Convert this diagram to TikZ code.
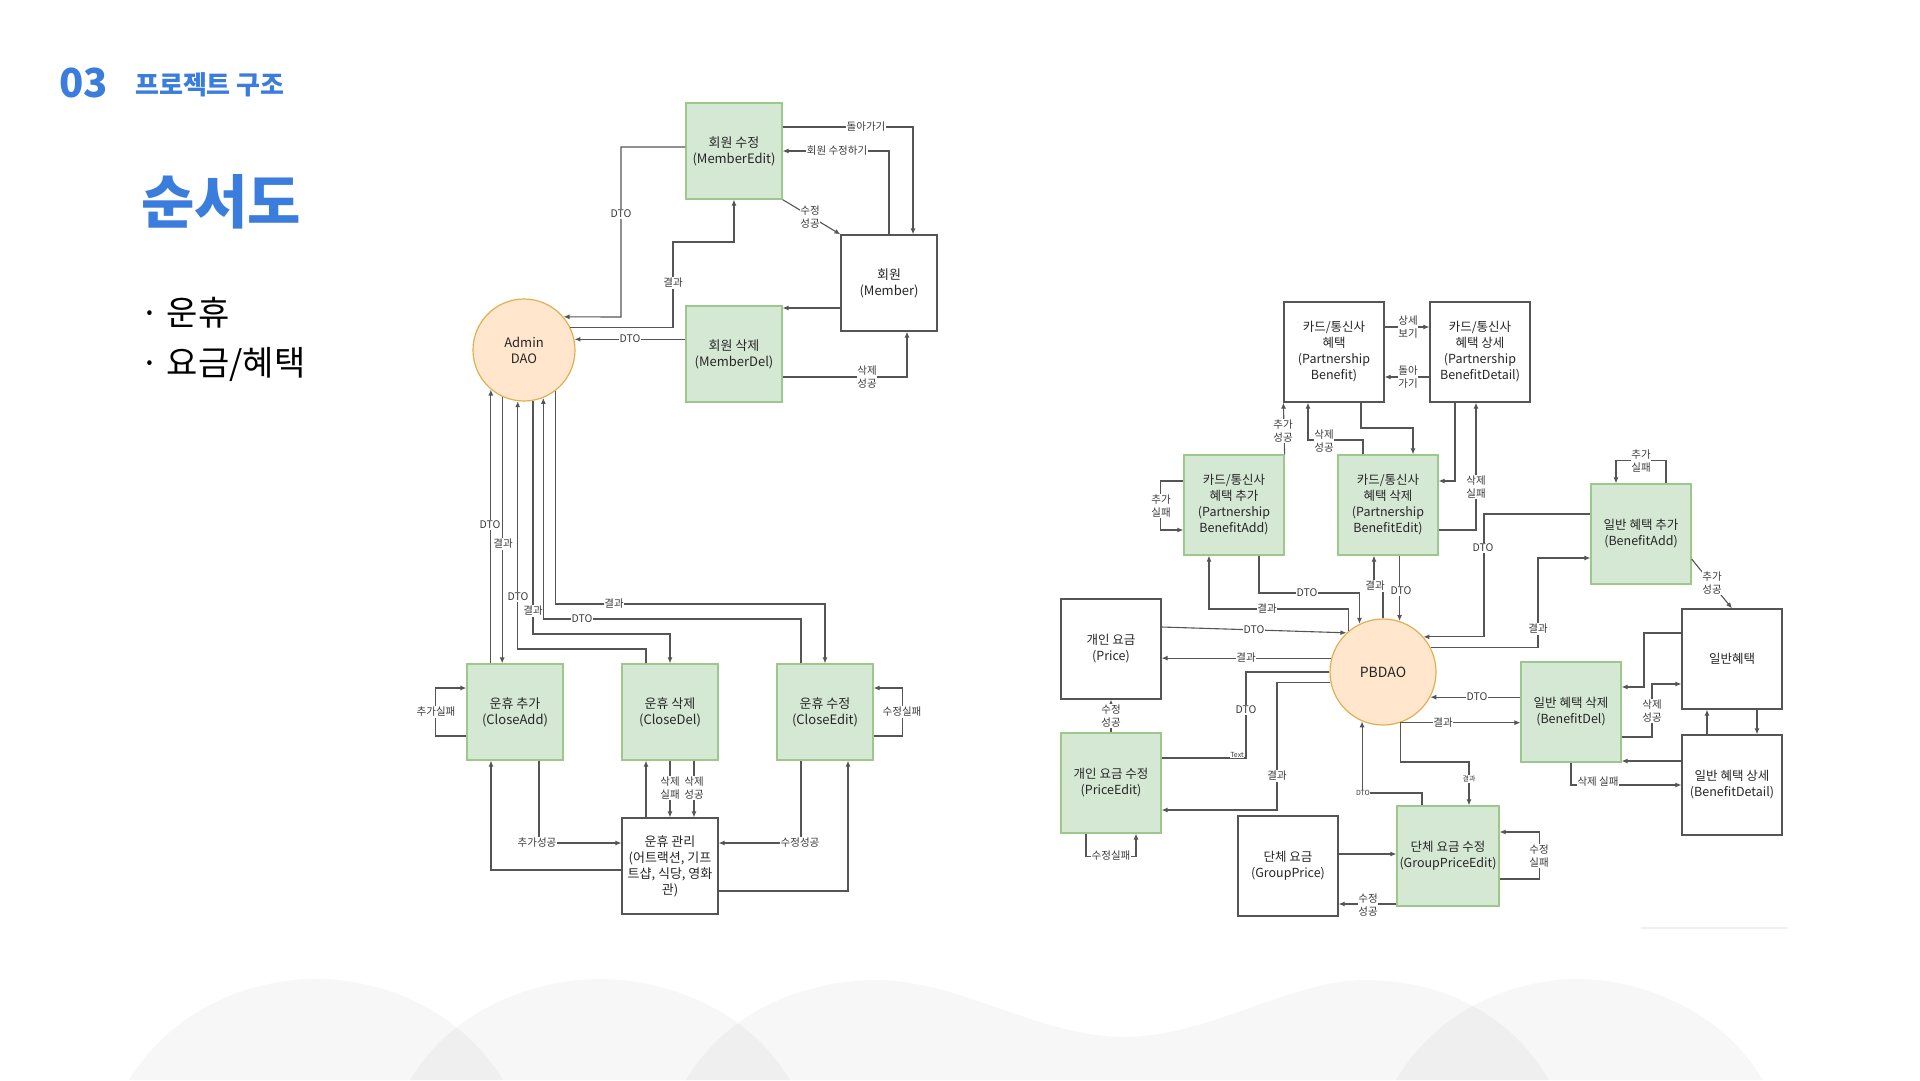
\documentclass[tikz,border=0pt]{standalone}
\usepackage{fontspec}
\setmainfont{Noto Sans CJK KR}
\usetikzlibrary{arrows.meta}
\definecolor{blueT}{HTML}{3B7DDD}
\definecolor{linec}{HTML}{555555}
\definecolor{txtc}{HTML}{262626}
\definecolor{lblc}{HTML}{3A3A3A}
\definecolor{greenf}{HTML}{D5E8D4}
\definecolor{greenb}{HTML}{9CC98B}
\definecolor{orangef}{HTML}{FFE6CC}
\definecolor{orangeb}{HTML}{E0B050}
\tikzset{
  wbox/.style={draw=linec, line width=1.2pt, fill=white, minimum width=96pt, minimum height=96pt, align=center, text=txtc, font=\fontsize{13}{16}\selectfont, inner sep=0pt},
  gbox/.style={wbox, draw=greenb, fill=greenf},
  rbox/.style={wbox, minimum width=100pt, minimum height=100pt, font=\fontsize{12.5}{16}\selectfont},
  rgbox/.style={rbox, draw=greenb, fill=greenf},
  daostyle/.style={circle, draw=orangeb, fill=orangef, line width=1.2pt, inner sep=0pt, align=center, text=txtc},
  lbl/.style={fill=white, inner sep=0.8pt, text=lblc, font=\fontsize{10.5}{13}\selectfont, align=center},
  slbl/.style={fill=white, inner sep=0.5pt, text=lblc, font=\fontsize{7}{8}\selectfont},
  arr/.style={draw=linec, line width=1.1pt, -{Latex[length=6pt,width=5pt]}},
  ln/.style={draw=linec, line width=1.1pt},
  hill/.style={fill=black, fill opacity=0.03},
  hdr/.style={anchor=base west, inner sep=0pt, text=blueT},
}
\begin{document}
\begin{tikzpicture}[x=1pt,y=-1pt]
\useasboundingbox (0,0) rectangle (1920,1080);
\fill[white] (0,0) rectangle (1920,1080);
% background hills
\fill[hill] (129,1080) .. controls (175,1005) and (255,979) .. (316,979) .. controls (377,979) and (457,1005) .. (503,1080) -- cycle;
\fill[hill] (410,1080) .. controls (455,1005) and (540,979) .. (600,979) .. controls (660,979) and (745,1005) .. (790,1080) -- cycle;
\fill[hill] (686,1080) .. controls (730,1005) and (815,980) .. (875,980) .. controls (960,980) and (1040,1037) .. (1124,1037) .. controls (1208,1037) and (1290,980) .. (1365,980) .. controls (1430,980) and (1505,1005) .. (1549,1080) -- cycle;
\fill[hill] (1396,1080) .. controls (1440,1005) and (1520,979) .. (1577,979) .. controls (1634,979) and (1718,1005) .. (1763,1080) -- cycle;
\draw[black!6, line width=1.5pt] (1641,928) -- (1788,928);

% header
\node[hdr, font=\fontsize{40}{40}\selectfont\bfseries] (num) at (59,97) {03};
\node[hdr, font=\fontsize{26}{26}\selectfont\bfseries] (sec) at (135,94) {프로젝트 구조};
\node[hdr, font=\fontsize{58}{58}\selectfont\bfseries] (ttl) at (141,223) {순서도};
\node[anchor=base west, inner sep=0pt, text=black, font=\fontsize{34}{34}\selectfont] (b1) at (140,325) {· 운휴};
\node[anchor=base west, inner sep=0pt, text=black, font=\fontsize{34}{34}\selectfont] (b2) at (140,375) {· 요금/혜택};

% ===== left diagram nodes =====
\node[gbox] (medit) at (734,151) {회원 수정\\(MemberEdit)};
\node[wbox] (member) at (889,283) {회원\\(Member)};
\node[gbox] (mdel) at (734,354) {회원 삭제\\(MemberDel)};
\node[daostyle, minimum size=102pt, font=\fontsize{13}{16}\selectfont] (dao) at (524,350) {Admin\\DAO};
\node[gbox] (cadd) at (515,712) {운휴 추가\\(CloseAdd)};
\node[gbox] (cdel) at (670,712) {운휴 삭제\\(CloseDel)};
\node[gbox] (cedit) at (825,712) {운휴 수정\\(CloseEdit)};
\node[wbox] (cman) at (670,866) {운휴 관리\\(어트랙션, 기프\\트샵, 식당, 영화\\관)};

% left edges
\draw[arr] (medit.west |- 0,147) -| (621,317) -- (dao.40);
\draw[arr] (dao.26) -| (673,242) -| (medit.south);
\draw[arr] (mdel.west |- dao.12) -- (dao.12);
\draw[arr] (medit.east |- 0,127) -| ([xshift=24pt]member.north);
\draw[arr] (member.north) |- (medit.east);
\draw[arr] (medit.south east) -- (member.north west);
\draw[arr] (member.west |- 0,308) -- (mdel.east |- 0,308);
\draw[arr] (mdel.east |- 0,377) -| ([xshift=18pt]member.south);
\draw[arr] (cadd.north -| dao.230) -- (dao.230);
\draw[arr] (dao.245) -- (cadd.north -| dao.245);
\draw[arr] ([xshift=-24pt]cdel.north) |- (dao.263 |- 0,649) -- (dao.263);
\draw[arr] (dao.280) |- (cdel.north |- 0,634) -- (cdel.north);
\draw[arr] ([xshift=-24pt]cedit.north) |- (dao.292 |- 0,619) -- (dao.292);
\draw[arr] (dao.307) |- (cedit.north |- 0,604) -- (cedit.north);
\draw[arr] (cadd.west |- 0,736) -- ++(-31,0) |- (cadd.west |- 0,688);
\draw[arr] (cedit.east |- 0,736) -- ++(29,0) |- (cedit.east |- 0,688);
\draw[arr] ([xshift=24pt]cadd.south) |- (cman.west |- 0,843);
\draw[arr] (cman.west |- 0,870) -| ([xshift=-24pt]cadd.south);
\draw[arr] ([xshift=-24pt]cman.north) -- ([xshift=-24pt]cdel.south);
\draw[arr] (cdel.south) -- (cman.north);
\draw[arr] ([xshift=24pt]cdel.south) -- ([xshift=24pt]cman.north);
\draw[arr] ([xshift=-24pt]cedit.south) |- (cman.east |- 0,843);
\draw[arr] (cman.east |- 0,891) -| ([xshift=23pt]cedit.south);

% left labels
\node[lbl] (l1) at (621,214) {DTO};
\node[lbl] (l2) at (673,283) {결과};
\node[lbl] (l3) at (630,339) {DTO};
\node[lbl] (l4) at (866,127) {돌아가기};
\node[lbl] (l5) at (837,151) {회원 수정하기};
\node[lbl] (l6) at (810,217) {수정\\성공};
\node[lbl] (l8) at (867,377) {삭제\\성공};
\node[lbl] (l9) at (490,525) {DTO};
\node[lbl] (l10) at (503,544) {결과};
\node[lbl] (l11) at (518,597) {DTO};
\node[lbl] (l12) at (533,611) {결과};
\node[lbl] (l13) at (582,619) {DTO};
\node[lbl] (l14) at (614,604) {결과};
\node[lbl] (l15) at (436,712) {추가실패};
\node[lbl] (l16) at (902,712) {수정실패};
\node[lbl] (l17) at (537,843) {추가성공};
\node[lbl, inner sep=0.3pt] (l20) at (670,788) {삭제\\실패};
\node[lbl, inner sep=0.3pt] (l21) at (694,788) {삭제\\성공};
\node[lbl] (l22) at (800,843) {수정성공};

% ===== right diagram nodes =====
\node[rbox] (pb) at (1334,352) {카드/통신사\\혜택\\(Partnership\\Benefit)};
\node[rbox] (pbd) at (1480,352) {카드/통신사\\혜택 상세\\(Partnership\\BenefitDetail)};
\node[rgbox] (pba) at (1234,505) {카드/통신사\\혜택 추가\\(Partnership\\BenefitAdd)};
\node[rgbox] (pbe) at (1388,505) {카드/통신사\\혜택 삭제\\(Partnership\\BenefitEdit)};
\node[rgbox] (ba) at (1641,534) {일반 혜택 추가\\(BenefitAdd)};
\node[rbox] (price) at (1111,649) {개인 요금\\(Price)};
\node[daostyle, minimum size=106pt, font=\fontsize{14}{16}\selectfont] (pbdao) at (1383,672) {PBDAO};
\node[rbox] (gb) at (1732,659) {일반혜택};
\node[rgbox] (bdel) at (1571,712) {일반 혜택 삭제\\(BenefitDel)};
\node[rbox] (bdet) at (1732,785) {일반 혜택 상세\\(BenefitDetail)};
\node[rgbox] (pedit) at (1111,783) {개인 요금 수정\\(PriceEdit)};
\node[rbox] (gp) at (1288,866) {단체 요금\\(GroupPrice)};
\node[rgbox, minimum width=102pt] (gpe) at (1448,856) {단체 요금 수정\\(GroupPriceEdit)};

% right edges
\draw[arr] (pb.east |- 0,327) -- (pbd.west |- 0,327);
\draw[arr] (pbd.west |- 0,377) -- (pb.east |- 0,377);
\draw[arr] (pba.north east) -- (pb.south west);
\draw[arr] ([xshift=-25pt]pbe.north) |- ([xshift=-26pt]pb.south |- 0,440) -- ([xshift=-26pt]pb.south);
\draw[arr] ([xshift=27pt]pb.south) |- ([xshift=25pt]pbe.north |- 0,428) -- ([xshift=25pt]pbe.north);
\draw[arr] (pba.west |- 0,481) -- ++(-23,0) |- (pba.west |- 0,530);
\draw[arr] ([xshift=25pt]pba.south) |- (pbdao.116 |- 0,593) -- (pbdao.116);
\draw[arr] (pbdao.130) |- ([xshift=-25pt]pba.south |- 0,609) -- ([xshift=-25pt]pba.south);
\draw[arr] (pbdao.north) -- ++(0,-28) -| ([xshift=-14pt]pbe.south);
\draw[arr] (pbe.south -| pbdao.72) -- (pbdao.72);
\draw[arr] ([xshift=-25pt]pbd.south) |- (pbe.east |- 0,481);
\draw[arr] (pbe.east |- 0,530) -| ([xshift=-4pt]pbd.south);
\draw[arr] (ba.west |- 0,514) -| (pbdao.41 -| 1484,0) -- (pbdao.41);
\draw[arr] (pbdao.27) -| (1538,558) -- (ba.west |- 0,558);
\draw[arr] ([xshift=25pt]ba.north) -- ++(0,-23) -| ([xshift=-25pt]ba.north);
\draw[arr] ([yshift=-25pt]ba.east) -- (gb.north);
\draw[arr] (gb.west |- 0,633) -| (1644,687) -- (bdel.east |- 0,687);
\draw[arr] (bdel.east |- 0,737) -| (1652,684) -- (gb.west |- 0,684);
\draw[arr] ([xshift=-25pt]bdet.north) -- ([xshift=-25pt]gb.south);
\draw[arr] ([xshift=25pt]gb.south) -- ([xshift=25pt]bdet.north);
\draw[arr] (bdet.west |- 0,761) -- (bdel.east |- 0,761);
\draw[arr] (bdel.south) |- (bdet.west |- 0,785);
\draw[arr] (bdel.west |- pbdao.332) -- (pbdao.332);
\draw[arr] (pbdao.289) -- (bdel.west |- pbdao.289);
\draw[arr] (pbdao.289) |- ([xshift=21pt]gpe.north |- 0,762) -- ([xshift=21pt]gpe.north);
\draw[arr] (gpe.east |- 0,879) -- ++(40,0) |- (gpe.east |- 0,832);
\draw[arr] (price.east |- 0,627) -- (pbdao.133);
\draw[arr] (pbdao.165) -- (price.east |- pbdao.165);
\draw[ln] (pbdao.west) -| (1246,758) -- (pedit.east |- 0,758);
\draw[arr] (pbdao.191) -| (1277,810) -- (pedit.east |- 0,810);
\draw[arr] (pedit.north) -- (price.south);
\draw[arr] ([xshift=-25pt]pedit.south) -- ++(0,23) -| ([xshift=25pt]pedit.south);
\draw[arr] ([xshift=-26pt]gpe.north) |- (pbdao.247 |- 0,793) -- (pbdao.247);
\draw[arr] (gp.east |- 0,854) -- (gpe.west |- 0,854);
\draw[arr] (gpe.west |- 0,904) -- (gp.east |- 0,904);

% right labels
\node[lbl] (r1) at (1408,327) {상세\\보기};
\node[lbl] (r2) at (1408,377) {돌아\\가기};
\node[lbl] (r3) at (1283,431) {추가\\성공};
\node[lbl] (r4) at (1324,441) {삭제\\성공};
\node[lbl] (r6) at (1161,506) {추가\\실패};
\node[lbl] (r7) at (1307,593) {DTO};
\node[lbl] (r8) at (1267,609) {결과};
\node[lbl] (r9) at (1375,586) {결과};
\node[lbl] (r10) at (1401,591) {DTO};
\node[lbl] (r12) at (1476,487) {삭제\\실패};
\node[lbl] (r13) at (1483,548) {DTO};
\node[lbl] (r14) at (1538,629) {결과};
\node[lbl] (r15) at (1641,461) {추가\\실패};
\node[lbl] (r16) at (1712,583) {추가\\성공};
\node[lbl] (r18) at (1652,711) {삭제\\성공};
\node[lbl] (r22) at (1598,782) {삭제 실패};
\node[lbl] (r23) at (1477,697) {DTO};
\node[lbl] (r24) at (1443,723) {결과};
\node[slbl] (r25) at (1469,779) {결과};
\node[lbl] (r26) at (1539,856) {수정\\실패};
\node[lbl] (r27) at (1254,630) {DTO};
\node[lbl] (r28) at (1246,658) {결과};
\node[lbl] (r29) at (1246,710) {DTO};
\node[slbl] (r29b) at (1237,755) {Text};
\node[lbl] (r30) at (1277,776) {결과};
\node[lbl] (r31) at (1111,716) {수정\\성공};
\node[lbl] (r32) at (1111,856) {수정실패};
\node[slbl] (r33) at (1363,793) {DTO};
\node[lbl] (r35) at (1368,905) {수정\\성공};
\end{tikzpicture}
\end{document}
